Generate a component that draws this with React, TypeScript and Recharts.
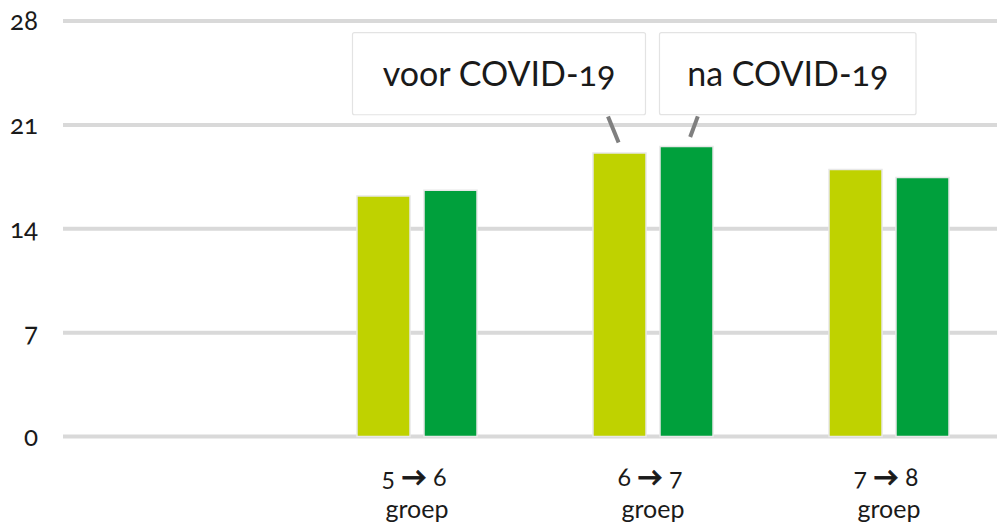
import React from 'react';
import { BarChart, Bar, XAxis, YAxis, CartesianGrid } from 'recharts';

const categories = ['', '5 → 6', '6 → 7', '7 → 8'];
const voorValues = [null, 16.2, 19.1, 18.0];
const naValues = [null, 16.6, 19.55, 17.45];
const yTicks = [0, 7, 14, 21, 28];
const seriesNames = ['voor COVID-19', 'na COVID-19'];
const subLabel = 'groep';
const calloutIndex = 2;

const data = categories.map((c, i) => ({ name: c, voor: voorValues[i], na: naValues[i] }));

const FONT = 'Lato, "Open Sans", sans-serif';
const LIGHT = '#BFD200';
const DARK = '#00A03C';

const XTick = (props: any) => {
  const { x, y, payload } = props;
  if (!payload || !payload.value) return null;
  const parts = String(payload.value).split('→');
  return (
    <g>
      <text x={x - 3} y={y + 41} textAnchor="middle" fontSize={25} fill="#1a1a1a" fontFamily={FONT} style={{ fontFeatureSettings: '"onum"' }}>
        <tspan>{parts[0]}</tspan>
        <tspan fontWeight="bold" stroke="#1a1a1a" strokeWidth={0.8}>→</tspan>
        <tspan>{parts[1]}</tspan>
      </text>
      <text x={x} y={y + 73} textAnchor="middle" fontSize={25} fill="#1a1a1a" fontFamily={FONT}>
        {subLabel}
      </text>
    </g>
  );
};

const Callout = (props: any, which: 'voor' | 'na') => {
  const { x, y, width, value } = props;
  const target = which === 'voor' ? voorValues[calloutIndex] : naValues[calloutIndex];
  if (value !== target) return null;
  const cx = x + width / 2;
  let left, right, top, bottom, l1, l2;
  if (which === 'voor') {
    left = cx - 267; right = cx + 26; top = y - 120.5; bottom = y - 38.3;
    l1 = [cx - 11.5, y - 36.6]; l2 = [cx - 0.9, y - 10.6];
  } else {
    left = cx - 27; right = cx + 229.5; top = y - 113.7; bottom = y - 31.7;
    l1 = [cx + 11.3, y - 30]; l2 = [cx + 3.7, y - 9.4];
  }
  const label = which === 'voor' ? seriesNames[0] : seriesNames[1];
  return (
    <g>
      <line x1={l1[0]} y1={l1[1]} x2={l2[0]} y2={l2[1]} stroke="#7f7f7f" strokeWidth={4} />
      <rect x={left} y={top} width={right - left} height={bottom - top} fill="#ffffff" stroke="#e3e3e3" strokeWidth={1.2} rx={2} />
      <text x={(left + right) / 2} y={(top + bottom) / 2 + 12} textAnchor="middle" fontSize={34} fill="#1a1a1a" fontFamily={FONT} style={{ fontFeatureSettings: '"onum"' }}>
        {label}
      </text>
    </g>
  );
};

export default function App() {
  return (
    <div style={{ position: 'fixed', left: 0, top: 0, width: 997, height: 529, overflow: 'hidden', background: '#fff' }}>
      <BarChart
        width={1007}
        height={529}
        data={data}
        margin={{ top: 21, right: 0, bottom: 0, left: 0 }}
        barCategoryGap={58}
        barGap={14}
      >
        <CartesianGrid vertical={false} stroke="#d9d9d9" strokeWidth={4} />
        <XAxis dataKey="name" axisLine={false} tickLine={false} height={92.5} tick={<XTick />} interval={0} />
        <YAxis
          domain={[0, 28]}
          ticks={yTicks}
          width={63}
          axisLine={false}
          tickLine={false}
          tickMargin={19}
          tick={{ fontSize: 26, fill: '#1a1a1a', fontFamily: FONT, style: { fontFeatureSettings: '"onum"' } }}
        />
        <Bar dataKey="voor" fill={LIGHT} stroke="#e8e8e8" strokeWidth={1.5} isAnimationActive={false} label={(p: any) => Callout(p, 'voor')} />
        <Bar dataKey="na" fill={DARK} stroke="#e8e8e8" strokeWidth={1.5} isAnimationActive={false} label={(p: any) => Callout(p, 'na')} />
      </BarChart>
    </div>
  );
}
